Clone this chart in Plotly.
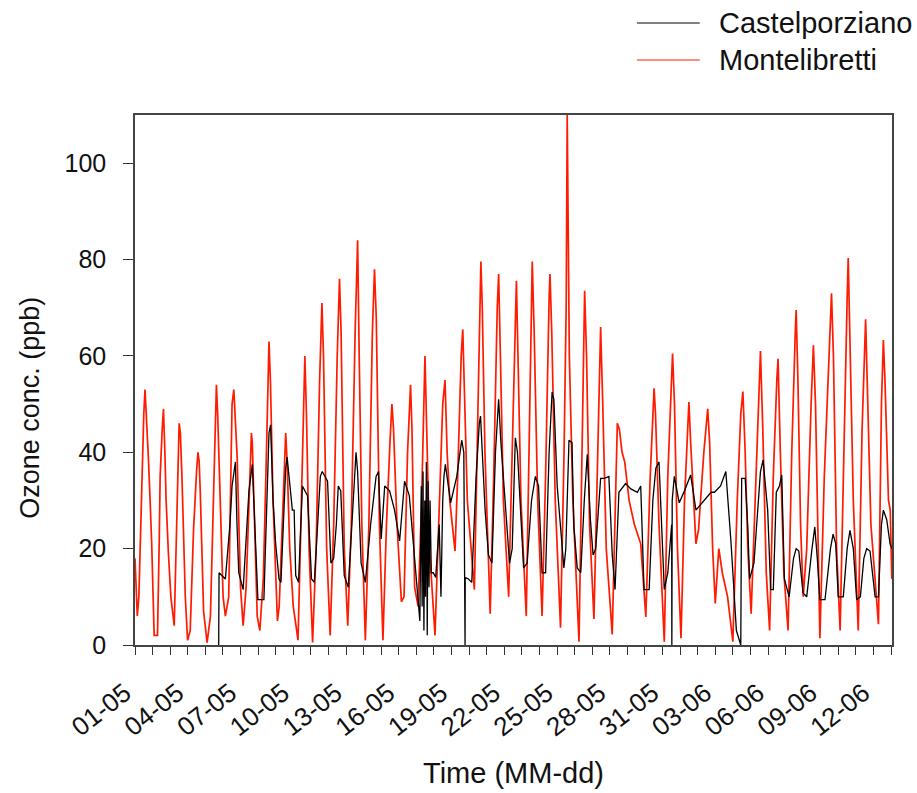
import pandas as pd
import plotly.graph_objects as go

# ---- data (day offsets from 01-05 00:00, ozone in ppb) ----
BASE = "2006-05-01"

mont_day = [0.00, 0.13, 0.22, 0.35, 0.50, 0.57, 0.66, 0.76, 0.86, 0.95, 1.09, 1.28, 1.38, 1.43, 1.55, 1.62, 1.70, 1.77, 1.90, 2.04,
            2.23, 2.34, 2.45, 2.51, 2.58, 2.67, 2.86, 2.99, 3.14, 3.33, 3.50, 3.58, 3.65, 3.71, 3.90, 4.10, 4.29, 4.48, 4.58, 4.63,
            4.70, 4.82, 5.01, 5.14, 5.33, 5.45, 5.52, 5.62, 5.70, 5.81, 6.00, 6.15, 6.32, 6.51, 6.62, 6.67, 6.80, 6.95, 7.10, 7.30,
            7.47, 7.62, 7.70, 7.85, 8.00, 8.10, 8.20, 8.40, 8.57, 8.65, 8.80, 9.00, 9.27, 9.40, 9.55, 9.66, 9.75, 9.90, 10.10, 10.30,
            10.50, 10.63, 10.72, 10.90, 11.10, 11.30, 11.50, 11.63, 11.72, 11.90, 12.10, 12.30, 12.52, 12.66, 12.75, 12.90, 13.10, 13.30, 13.50, 13.62,
            13.72, 13.90, 14.10, 14.30, 14.50, 14.61, 14.70, 14.90, 15.15, 15.30, 15.50, 15.67, 15.75, 15.90, 16.10, 16.30, 16.49, 16.60, 16.75, 17.06,
            17.30, 17.50, 17.63, 17.75, 17.90, 18.20, 18.35, 18.55, 18.64, 18.75, 18.90, 19.30, 19.45, 19.60, 19.67, 19.75, 19.90, 20.20, 20.40, 20.60,
            20.68, 20.78, 20.95, 21.25, 21.45, 21.62, 21.69, 21.78, 21.95, 22.25, 22.40, 22.55, 22.59, 22.70, 22.90, 23.15, 23.35, 23.55, 23.60, 23.70,
            23.90, 24.20, 24.40, 24.52, 24.58, 24.62, 24.70, 24.90, 25.25, 25.40, 25.52, 25.57, 25.68, 25.85, 26.10, 26.30, 26.48, 26.60, 26.80, 27.14,
            27.30, 27.43, 27.55, 27.70, 27.85, 28.10, 28.40, 28.76, 29.05, 29.30, 29.52, 29.60, 29.80, 30.10, 30.30, 30.50, 30.57, 30.68, 30.85, 31.05,
            31.25, 31.50, 31.60, 31.90, 32.05, 32.35, 32.57, 32.68, 32.85, 33.00, 33.20, 33.40, 33.70, 34.00, 34.25, 34.45, 34.57, 34.70, 34.85, 35.04,
            35.30, 35.50, 35.57, 35.70, 35.90, 36.09, 36.30, 36.50, 36.57, 36.70, 36.90, 37.14, 37.35, 37.55, 37.60, 37.70, 37.85, 38.00, 38.20, 38.45,
            38.58, 38.70, 38.85, 38.95, 39.20, 39.50, 39.61, 39.72, 39.90, 40.10, 40.30, 40.50, 40.56, 40.65, 40.85, 41.13, 41.35, 41.55, 41.65, 41.85,
            42.28, 42.45, 42.56, 42.65, 42.85, 42.95, 43.04]
mont_val = [18, 6, 10, 30, 48, 53, 47, 39, 30, 21, 2, 2, 22, 35, 45, 49, 40, 30, 19, 10,
            4, 21, 38, 46, 44, 35, 10, 1, 3, 24, 36, 40, 38, 32, 7, 0.5, 6, 32, 48, 54,
            48, 35, 10, 6, 10, 35, 50, 53, 46, 39, 12, 4, 12, 32, 44, 42, 24, 6, 3, 14,
            39, 63, 55, 30, 15, 5, 8, 30, 44, 38, 20, 8, 1, 20, 45, 60, 48, 20, 0.5, 20,
            55, 71, 60, 20, 2, 25, 60, 76, 65, 20, 4, 25, 65, 84, 60, 25, 1, 25, 65, 78,
            68, 25, 1, 25, 42, 50, 45, 25, 9, 10, 40, 54, 45, 12, 8, 30, 60, 45, 20, 2,
            30, 50, 55, 40, 30, 19.5, 35, 60, 65.5, 50, 30, 11.5, 40, 72, 79.6, 70, 40, 6.5, 35, 70,
            77, 60, 30, 10, 40, 70, 75.6, 60, 30, 6, 40, 74, 79.6, 65, 30, 6, 35, 72, 77, 65,
            30, 3.6, 40, 70, 110, 93, 60, 30, 0.7, 35, 70, 73.5, 60, 25, 5.4, 35, 66, 50, 20, 2.2,
            30, 46, 44.7, 40, 38, 30, 25, 21, 5.8, 35, 53.3, 48, 25, 0.7, 35, 55, 60.5, 50, 20, 1.4,
            30, 50.4, 42, 21, 24, 40, 49, 42, 20, 8.6, 20, 15, 10, 0.7, 30, 48, 52.6, 40, 20, 6.5,
            35, 55, 61, 45, 15, 3, 35, 55, 59.4, 40, 15, 3, 40, 65, 69.5, 55, 25, 10, 20, 50,
            62.2, 50, 20, 1.4, 35, 65, 73, 60, 20, 3, 40, 72, 80.3, 65, 30, 3, 45, 67.6, 55, 25,
            4.3, 50, 63.3, 55, 30, 28, 13.7]

cast_day = [4.76, 4.78, 5.14, 5.40, 5.52, 5.71, 5.80, 5.90, 6.15, 6.35, 6.48, 6.67, 6.86, 6.99, 7.33, 7.47, 7.62, 7.71, 7.85, 8.00,
            8.19, 8.30, 8.45, 8.57, 8.65, 8.95, 9.05, 9.14, 9.30, 9.45, 9.52, 9.81, 10.04, 10.20, 10.40, 10.54, 10.65, 10.95, 11.14, 11.30,
            11.45, 11.56, 11.70, 11.90, 12.13, 12.35, 12.57, 12.66, 12.86, 13.10, 13.40, 13.71, 13.85, 14.00, 14.20, 14.48, 14.76, 15.05, 15.33, 15.60,
            15.90, 16.20, 16.28, 16.33, 16.38, 16.43, 16.48, 16.52, 16.57, 16.62, 16.67, 16.72, 16.78, 16.85, 16.96, 17.10, 17.30, 17.40, 17.50, 17.57,
            17.65, 17.95, 18.30, 18.58, 18.70, 18.76, 18.77, 18.78, 18.96, 19.15, 19.40, 19.58, 19.65, 19.91, 20.10, 20.30, 20.50, 20.68, 20.80, 21.10,
            21.30, 21.45, 21.63, 21.75, 21.91, 22.10, 22.30, 22.55, 22.77, 22.95, 23.15, 23.35, 23.55, 23.72, 23.82, 24.01, 24.20, 24.39, 24.50, 24.68,
            24.85, 24.96, 25.15, 25.35, 25.55, 25.72, 25.90, 26.05, 26.20, 26.48, 26.70, 26.95, 27.14, 27.30, 27.52, 27.90, 28.20, 28.57, 28.76, 28.95,
            29.24, 29.45, 29.62, 29.80, 30.10, 30.30, 30.52, 30.53, 30.55, 30.67, 30.95, 31.25, 31.60, 31.90, 32.38, 32.76, 32.95, 33.30, 33.60, 33.90,
            34.20, 34.45, 34.50, 34.70, 34.85, 34.95, 35.20, 35.45, 35.57, 35.72, 35.98, 36.15, 36.30, 36.47, 36.65, 36.78, 36.93, 37.20, 37.45, 37.60,
            37.75, 37.99, 38.20, 38.50, 38.66, 38.80, 38.95, 39.24, 39.55, 39.70, 39.85, 39.99, 40.28, 40.50, 40.66, 40.85, 41.04, 41.25, 41.45, 41.61,
            41.80, 42.09, 42.28, 42.45, 42.56, 42.75, 42.94, 43.04]
cast_val = [0, 15, 13.7, 25, 33, 38, 25, 15, 11.5, 25, 32, 37.5, 21, 9.4, 9.4, 28, 44, 45.7, 30, 21,
            13.7, 13, 25, 36.7, 39, 28, 28, 14.4, 13, 25, 33, 31, 13.7, 13, 25, 35, 36, 34, 17, 18,
            25, 33, 32, 14.4, 12, 25, 40, 36, 17, 13, 25, 35, 36, 22, 33, 32, 28, 21.6, 34, 31,
            18.7, 5, 33, 8, 36, 3, 30, 10, 38, 2, 34, 12, 30, 15, 15, 14, 25, 10, 30, 35,
            37.5, 29.5, 35, 42.5, 40, 14, 0, 14, 13.7, 13, 35, 46, 47.5, 28, 18.7, 17, 40, 51, 42.5, 28,
            17, 20, 43, 40, 29, 16, 17, 30, 35, 33, 15, 15, 40, 52.5, 51, 33, 24.5, 16, 20, 42.5,
            42, 24.5, 16, 15, 30, 39.6, 26, 18.7, 20, 34.6, 34.6, 35, 18.7, 11.5, 31.7, 33.5, 32.4, 31.7, 33, 11.5,
            11.5, 30, 36.7, 38, 11.5, 15, 25, 0, 30, 35, 29.5, 32, 35.3, 28, 30, 31.7, 31.7, 33, 36, 21,
            3, 0, 34.6, 34.6, 24.5, 13.7, 17, 30, 36, 38.4, 28, 11.5, 11.5, 31.7, 33, 35.3, 13.7, 10, 18, 20,
            19.5, 10.8, 10, 20, 24.5, 18, 9.4, 9.4, 20, 23, 21, 10, 10, 20, 23.8, 20, 9.4, 10, 18, 20,
            19.5, 10, 10, 25, 28, 26, 21, 20]

x_range_days = [0, 43.05]
y_ticks = [0, 20, 40, 60, 80, 100]
series_names = ["Castelporziano", "Montelibretti"]
series_colors = ["#000000", "#ff1a00"]

base = pd.Timestamp(BASE)
mont_x = base + pd.to_timedelta(mont_day, unit="D")
cast_x = base + pd.to_timedelta(cast_day, unit="D")

FONT = "Liberation Sans, Arial, sans-serif"

fig = go.Figure()
fig.add_trace(go.Scatter(x=mont_x, y=mont_val, mode="lines", name=series_names[1],
                         line=dict(color=series_colors[1], width=1.7), showlegend=False))
fig.add_trace(go.Scatter(x=cast_x, y=cast_val, mode="lines", name=series_names[0],
                         line=dict(color=series_colors[0], width=1.3), showlegend=False))

# legend drawn as line samples + text above the plot (paper coordinates)
legend_y = [1.1736, 1.1038]
for name, color, ly in zip(series_names, series_colors, legend_y):
    fig.add_shape(type="line", xref="paper", yref="paper", x0=0.663, x1=0.746, y0=ly, y1=ly,
                  line=dict(color=color, width=1.2))
    fig.add_annotation(xref="paper", yref="paper", x=0.769, y=ly, text=name, showarrow=False,
                       xanchor="left", yanchor="middle", font=dict(size=29, family=FONT, color="#111111"))

# axis titles
fig.add_annotation(xref="paper", yref="paper", x=-0.139, y=0.447, text="Ozone conc. (ppb)", textangle=-90,
                   showarrow=False, xanchor="center", yanchor="middle",
                   font=dict(size=27, family=FONT, color="#111111"))
fig.add_annotation(xref="paper", yref="paper", x=0.5, y=-0.2415, text="Time (MM-dd)",
                   showarrow=False, xanchor="center", yanchor="middle",
                   font=dict(size=29, family=FONT, color="#111111"))

fig.update_layout(
    width=917, height=793,
    margin=dict(l=135, r=25, t=115, b=148, autoexpand=False),
    plot_bgcolor="white", paper_bgcolor="white",
    font=dict(family=FONT, color="#111111"),
    showlegend=False,
)
fig.update_xaxes(
    range=[base + pd.Timedelta(days=x_range_days[0]), base + pd.Timedelta(days=x_range_days[1])],
    tickformat="%d-%m", tick0=base, dtick=3 * 86400000,
    ticks="outside", ticklen=8, tickwidth=1.2, tickcolor="#333333",
    minor=dict(dtick=86400000, ticks="outside", ticklen=8, tickwidth=1.2, tickcolor="#333333", showgrid=False),
    tickangle=-38, tickfont=dict(size=26, family=FONT), ticklabelstandoff=13, ticklabelshift=-10,
    showline=True, linecolor="#444444", linewidth=1.5, mirror=True, showgrid=False, zeroline=False,
)
fig.update_yaxes(
    range=[0, 110], tickvals=y_ticks,
    ticks="outside", ticklen=10, tickwidth=1.2, tickcolor="#333333",
    tickfont=dict(size=25, family=FONT), ticklabelstandoff=12,
    showline=True, linecolor="#444444", linewidth=1.5, mirror=True, showgrid=False, zeroline=False,
)

fig.write_html("out.html")
